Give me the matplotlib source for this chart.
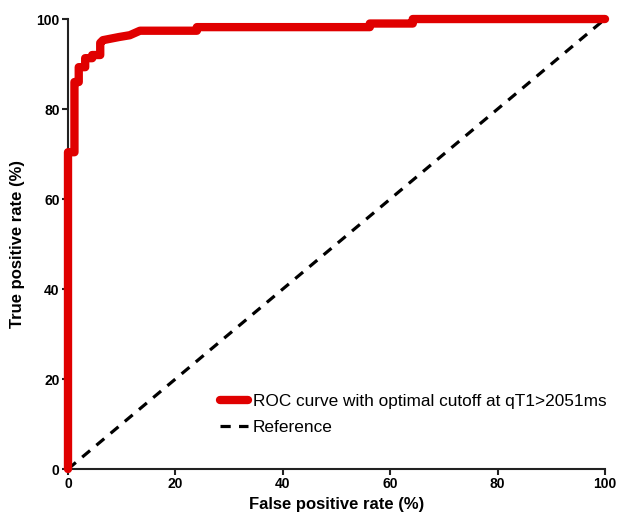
"""ROC curve for qT1 cutoff, GraphPad-style look."""
import matplotlib
matplotlib.use("Agg")
import matplotlib.pyplot as plt

plt.rcParams["font.family"] = ["Liberation Sans", "DejaVu Sans"]

# staircase of the ROC curve (percent)
fpr = [0, 0, 1.2, 1.2, 2.0, 2.0, 3.2, 3.2, 4.5, 4.5, 6.0, 6.0, 6.5, 9.5, 11.5,
       13.4, 24.0, 24.0, 56.2, 56.2, 64.2, 64.2, 100]
tpr = [0, 70.4, 70.4, 86.0, 86.0, 89.3, 89.3, 91.3, 91.3, 92.0, 92.0, 94.7, 95.3,
       96.0, 96.4, 97.4, 97.4, 98.2, 98.2, 99.0, 99.0, 100, 100]

ref_x = [0, 100]
ref_y = [0, 100]

roc_label = "ROC curve with optimal cutoff at qT1>2051ms"
ref_label = "Reference"
ticks = [0, 20, 40, 60, 80, 100]

fig = plt.figure(figsize=(6.32, 5.17), dpi=100)
ax = fig.add_axes([0.1076, 0.0928, 0.8497, 0.8704])

ax.plot(fpr, tpr, color="#e00000", lw=6, solid_joinstyle="round",
        solid_capstyle="round", clip_on=False, zorder=4, label=roc_label)
ax.plot(ref_x, ref_y, color="black", lw=2.3, dashes=(3.2, 2.6),
        clip_on=False, zorder=3, label=ref_label)

ax.set_xlim(0, 100)
ax.set_ylim(0, 100)
ax.set_xticks(ticks)
ax.set_yticks(ticks)
for side in ["top", "right"]:
    ax.spines[side].set_visible(False)
for side in ["left", "bottom"]:
    ax.spines[side].set_linewidth(1.5)
    ax.spines[side].set_color("#222222")
ax.tick_params(direction="out", length=4, width=1.5, color="#222222",
               labelsize=10, pad=2)
for lab in ax.get_xticklabels() + ax.get_yticklabels():
    lab.set_fontweight("bold")

ax.set_xlabel("False positive rate (%)", fontsize=12, fontweight="bold", labelpad=4)
ax.set_ylabel("True positive rate (%)", fontsize=12, fontweight="bold", labelpad=8)

ax.legend(loc="lower left", bbox_to_anchor=(0.283, 0.076), frameon=False,
          fontsize=12.4, handlelength=1.65, handletextpad=0.25, labelspacing=0.6,
          borderpad=0, borderaxespad=0)

fig.savefig("out.png", dpi=100)
